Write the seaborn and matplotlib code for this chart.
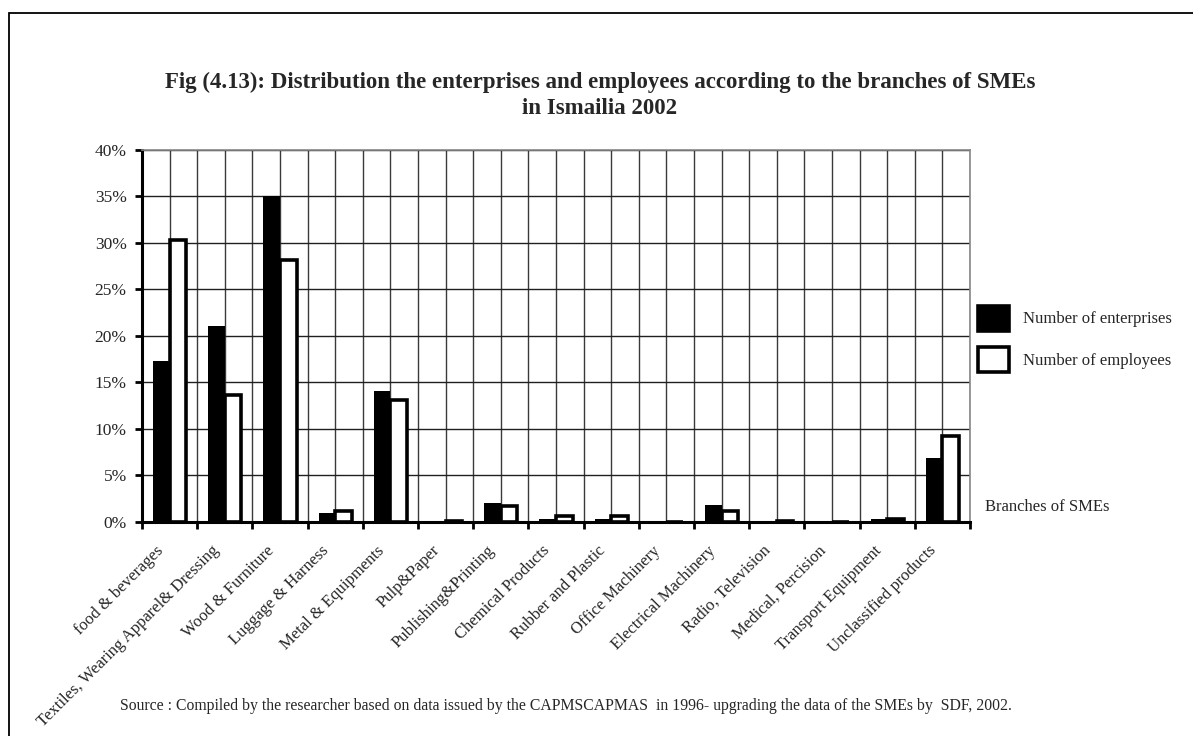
import numpy as np
import pandas as pd
import matplotlib
matplotlib.use("Agg")
import matplotlib.pyplot as plt
from matplotlib.patches import Rectangle
from matplotlib.ticker import FuncFormatter, FixedLocator
from matplotlib.transforms import ScaledTranslation
import seaborn as sns

# Branch shares (%) of SMEs in Ismailia, 2002
branches = [
    "food & beverages",
    "Textiles, Wearing Apparel& Dressing",
    "Wood & Furniture",
    "Luggage & Harness",
    "Metal & Equipments",
    "Pulp&Paper",
    "Publishing&Printing",
    "Chemical Products",
    "Rubber and Plastic",
    "Office Machinery",
    "Electrical Machinery",
    "Radio, Television",
    "Medical, Percision",
    "Transport Equipment",
    "Unclassified products",
]
enterprises = [17.3, 21.0, 35.0, 0.9, 14.1, 0.0, 2.0, 0.3, 0.3, 0.0, 1.8, 0.0, 0.0, 0.3, 6.8]
employees = [30.3, 13.6, 28.2, 1.1, 13.1, 0.1, 1.7, 0.6, 0.6, 0.0, 1.1, 0.1, 0.0, 0.3, 9.2]
series_names = ["Number of enterprises", "Number of employees"]
y_ticks = [0, 5, 10, 15, 20, 25, 30, 35, 40]

df = pd.DataFrame({
    "branch": branches * 2,
    "series": [series_names[0]] * len(branches) + [series_names[1]] * len(branches),
    "share": enterprises + employees,
})

sns.set_theme(style="white")
plt.rcParams["font.family"] = ["Liberation Serif", "DejaVu Serif"]

fig = plt.figure(figsize=(11.93, 7.36), dpi=100)
W, H = 1193, 736
ax = fig.add_axes([142 / W, 1 - 521.5 / H, (970 - 142) / W, (521.5 - 150) / H])

sns.barplot(
    data=df, x="branch", y="share", hue="series", order=branches,
    hue_order=series_names,
    palette={series_names[0]: "black", series_names[1]: "white"},
    width=0.6, gap=0, edgecolor="black", linewidth=2.6,
    errorbar=None, ax=ax, zorder=3,
)
# solid bars have no outline of their own
for bar in ax.containers[0]:
    bar.set_linewidth(0)

n = len(branches)
ax.set_xlim(-0.5, n - 0.5)
ax.set_ylim(0, 40)

# category boundaries carry tick marks, centres carry the labels
ax.xaxis.set_major_locator(FixedLocator(np.arange(-0.5, n, 1.0)))
ax.xaxis.set_major_formatter(FuncFormatter(lambda v, p: ""))
ax.set_xticks(np.arange(n), labels=branches, minor=True)
ax.tick_params(axis="x", which="major", direction="out", length=5, width=2,
               color="black", bottom=True)
ax.tick_params(axis="x", which="minor", length=0, pad=8)
shift = ScaledTranslation(-14 / 100, -10 / 100, fig.dpi_scale_trans)
for lbl in ax.get_xticklabels(minor=True):
    lbl.set_rotation(45)
    lbl.set_ha("right")
    lbl.set_va("top")
    lbl.set_rotation_mode("anchor")
    lbl.set_fontsize(12)
    lbl.set_transform(lbl.get_transform() + shift)

ax.set_yticks(y_ticks)
ax.yaxis.set_major_formatter(FuncFormatter(lambda v, p: f"{v:.0f}%"))
ax.tick_params(axis="y", direction="out", length=5, width=2, color="black",
               left=True, labelsize=12.5, pad=6)

ax.grid(True, which="both", axis="x", color="#3a3a3a", linewidth=1.0, zorder=0)
ax.grid(True, which="major", axis="y", color="#202020", linewidth=1.0, zorder=0)
ax.set_axisbelow(True)

for side in ("left", "bottom"):
    ax.spines[side].set_color("black")
    ax.spines[side].set_linewidth(2.2)
for side in ("top", "right"):
    ax.spines[side].set_color("#888888")
    ax.spines[side].set_linewidth(1.2)
ax.spines["bottom"].set_zorder(4)

ax.set_xlabel("")
ax.set_ylabel("")

handles, labels = ax.get_legend_handles_labels()
ax.legend(
    handles, labels, loc="upper left",
    bbox_to_anchor=(971 / W, 1 - 299 / H), bbox_transform=fig.transFigure,
    frameon=False, fontsize=12, handlelength=1.9, handleheight=1.93,
    handletextpad=0.8, labelspacing=1.0, borderaxespad=0,
)

fig.text(985 / W, 1 - 507 / H, "Branches of SMEs", fontsize=12,
         ha="left", va="center")

fig.text(600 / W, 1 - 82 / H,
         "Fig (4.13): Distribution the enterprises and employees according to the branches of SMEs",
         fontsize=16.5, fontweight="bold", ha="center", va="center")
fig.text(600 / W, 1 - 109 / H, "in Ismailia 2002",
         fontsize=16.5, fontweight="bold", ha="center", va="center")

fig.text(566 / W, 1 - 706 / H,
         "Source : Compiled by the researcher based on data issued by the CAPMSCAPMAS  in 1996- upgrading the data of the SMEs by  SDF, 2002.",
         fontsize=11.3, ha="center", va="center")

# outer frame of the figure
fig.patches.append(Rectangle((9 / W, -0.2), 1.2, 1.2 + (1 - 13 / H) - 1.0,
                             transform=fig.transFigure, fill=False,
                             edgecolor="black", linewidth=1.3))

fig.savefig("out.png", dpi=100, facecolor="white")
